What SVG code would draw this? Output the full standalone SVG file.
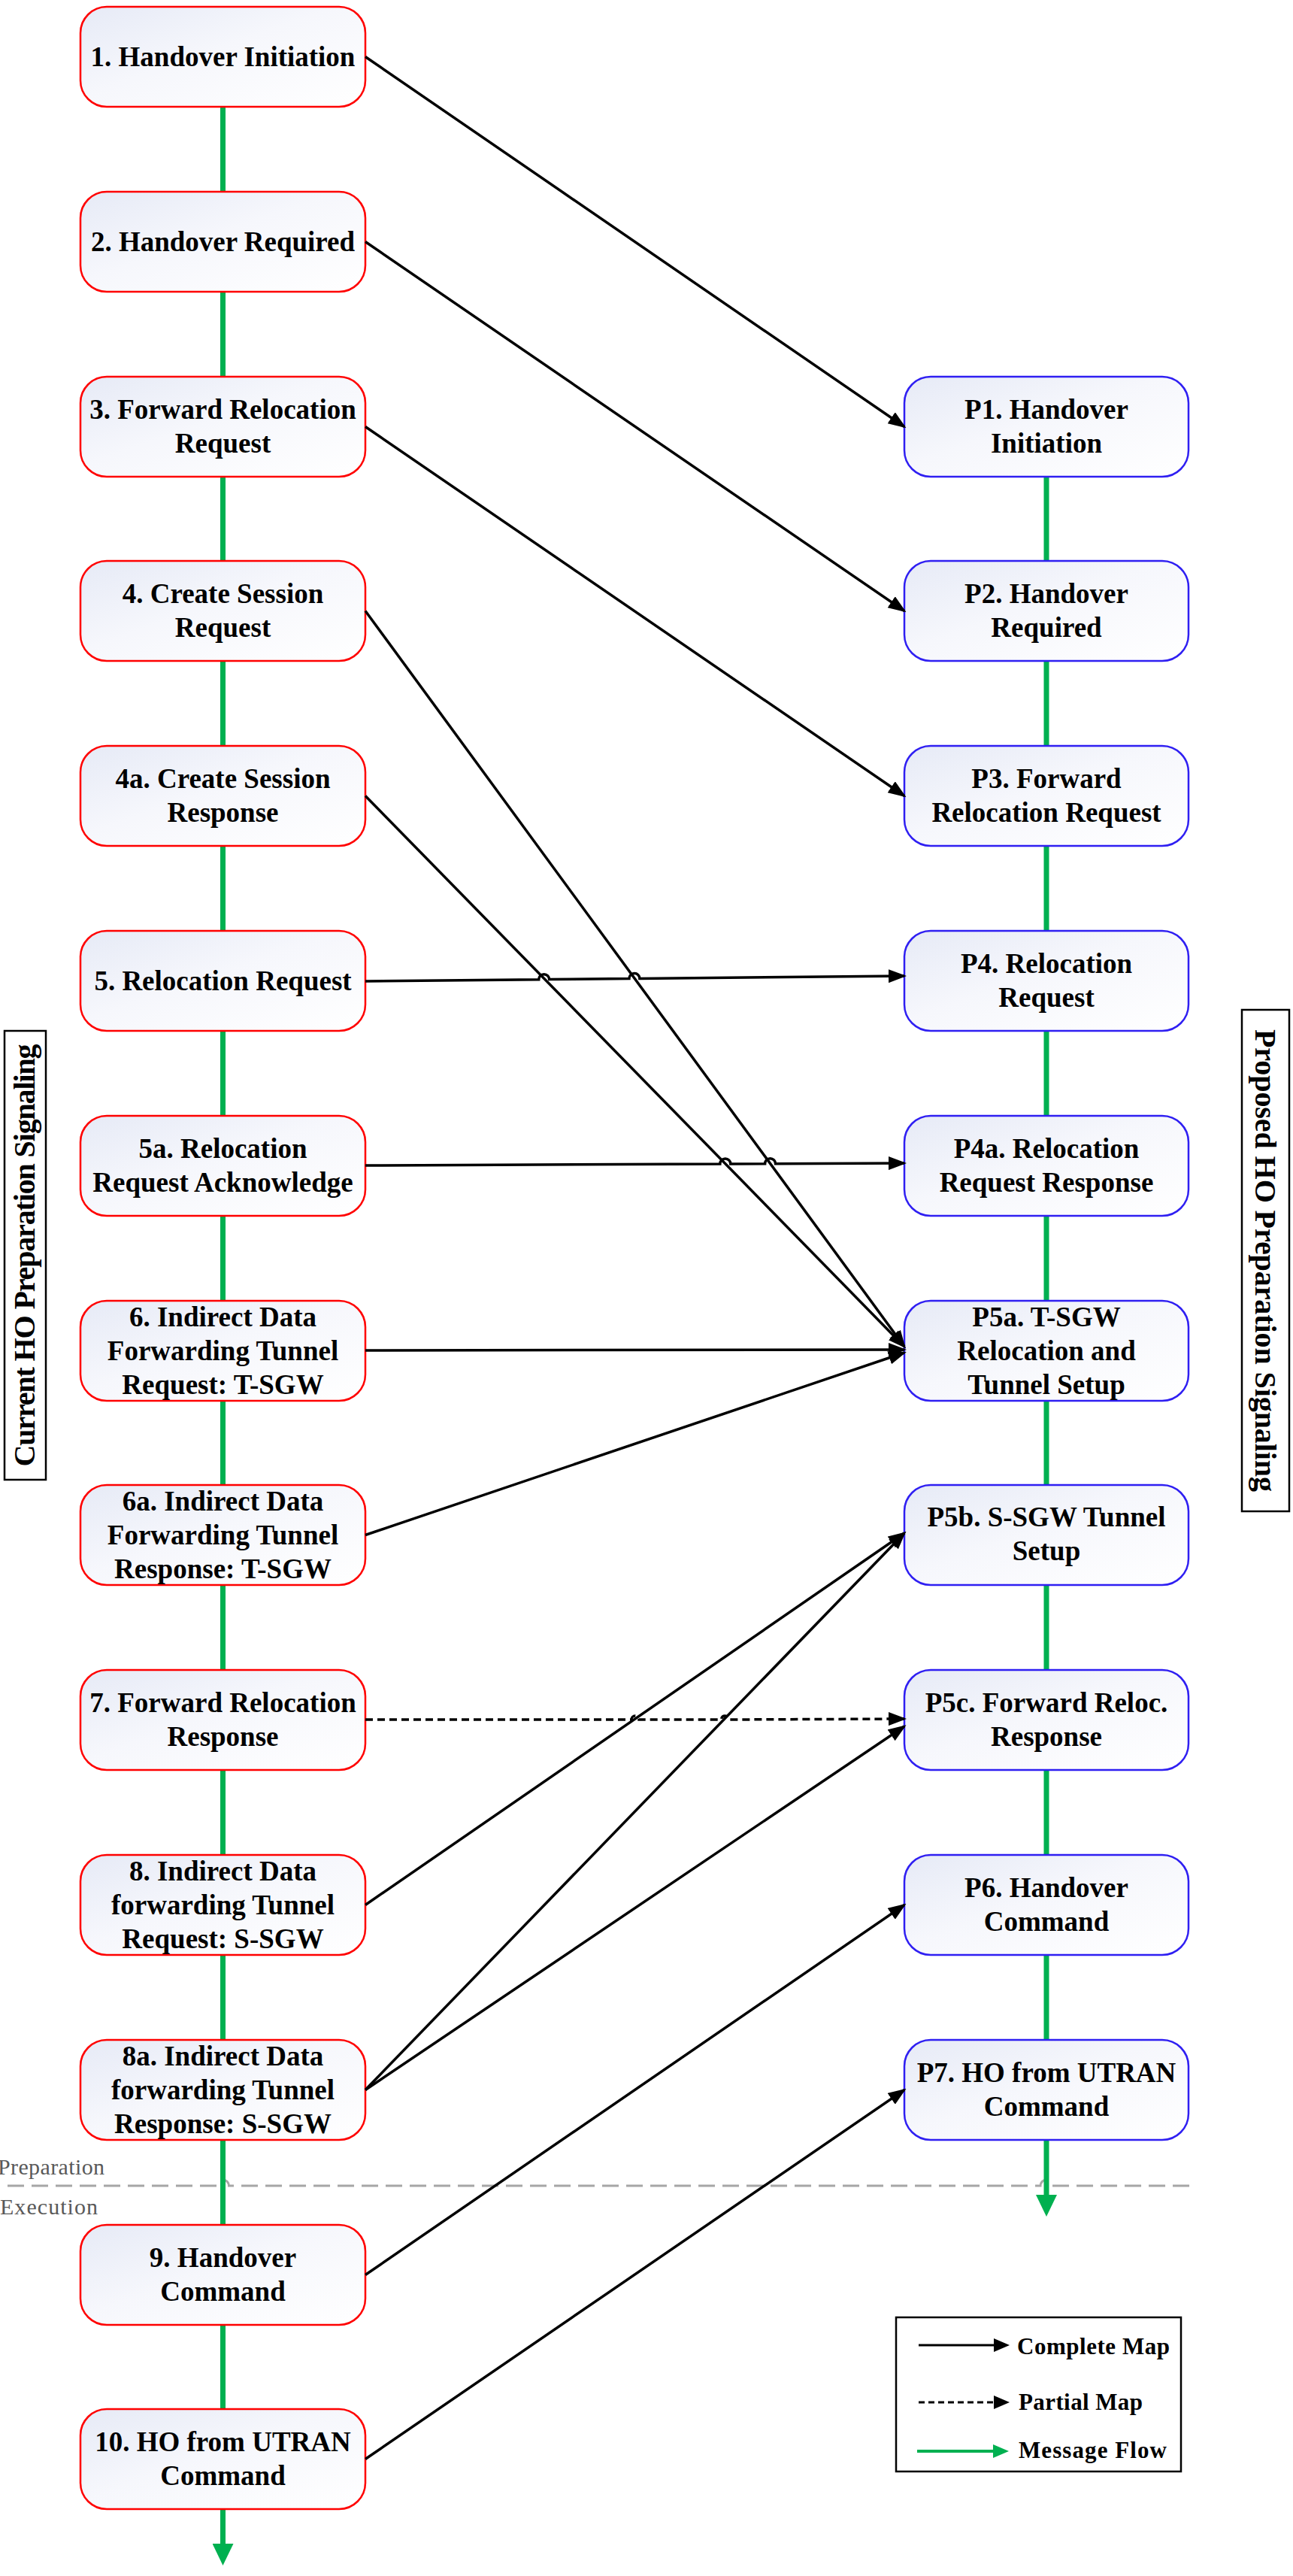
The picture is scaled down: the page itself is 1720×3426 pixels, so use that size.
<svg xmlns="http://www.w3.org/2000/svg" width="1720" height="3426" viewBox="0 0 1720 3426">
<style>
.nl rect{fill:url(#g);stroke:#ff0000;stroke-width:2.5}
.nr rect{fill:url(#g);stroke:#2f1ff2;stroke-width:2.5}
.node text{font-family:"Liberation Serif",serif;font-weight:bold;font-size:37px;text-anchor:middle;fill:#000}
.flow{fill:none;stroke:#00b050;stroke-width:7}
.c{fill:none;stroke:#000;stroke-width:3.5;marker-end:url(#ah)}
.lbl{font-family:"Liberation Serif",serif;font-size:40px;fill:#000;text-anchor:middle}
.phase{font-family:"Liberation Serif",serif;font-size:30px;fill:#595959}
.leg{font-family:"Liberation Serif",serif;font-weight:bold;font-size:31px;fill:#000}
</style>
<defs>
<linearGradient id="g" x1="0" y1="0" x2="1" y2="1">
<stop offset="0" stop-color="#e6eaf6"/>
<stop offset="0.45" stop-color="#f6f7fc"/>
<stop offset="1" stop-color="#ffffff"/>
</linearGradient>
<marker id="ah" markerUnits="userSpaceOnUse" markerWidth="24" markerHeight="18" viewBox="0 0 24 18" refX="21" refY="9" orient="auto"><path d="M0,0 L24,9 L0,18 z" fill="#000"/></marker>
<marker id="ahs" markerUnits="userSpaceOnUse" markerWidth="18" markerHeight="14" viewBox="0 0 18 14" refX="16" refY="7" orient="auto"><path d="M0,0 L18,7 L0,14 z" fill="#000"/></marker>
<marker id="gh" markerUnits="userSpaceOnUse" markerWidth="29" markerHeight="28" viewBox="0 0 29 28" refX="0" refY="14" orient="auto"><path d="M0,0 L29,14 L0,28 z" fill="#00b050"/></marker>
</defs>
<rect width="1720" height="3426" fill="#fff"/>

<!-- phase separator -->
<g id="separator">
<path d="M10,2907 L288.5,2907 A8,8 0 0 1 304.5,2907 L1384,2907 A8,8 0 0 1 1400,2907 L1590,2907" fill="none" stroke="#a6a6a6" stroke-width="3" stroke-dasharray="22 10"/>
<text class="phase" x="-3" y="2892" textLength="142">Preparation</text>
<text class="phase" x="0" y="2945" textLength="130">Execution</text>
</g>

<!-- side labels -->
<g id="label-current">
<rect x="6" y="1371" width="55" height="597" fill="#fff" stroke="#000" stroke-width="2.5"/>
<text class="lbl" font-weight="bold" transform="translate(46,1669.5) rotate(-90)" textLength="562">Current HO Preparation Signaling</text>
</g>
<g id="label-proposed">
<rect x="1652" y="1343" width="63" height="667" fill="#fff" stroke="#000" stroke-width="2.5"/>
<text class="lbl" font-weight="bold" transform="translate(1670,1676.5) rotate(90)" textLength="615">Proposed HO Preparation Signaling</text>
</g>

<!-- message flow lines -->
<g id="flows">
<path class="flow" d="M296.5,142 V255 M296.5,388 V501 M296.5,634 V746 M296.5,879 V992 M296.5,1125 V1238 M296.5,1371 V1484 M296.5,1617 V1730 M296.5,1863 V1975 M296.5,2108 V2221 M296.5,2354 V2467 M296.5,2600 V2713 M296.5,2846 V2959 M296.5,3092 V3204"/>
<path class="flow" d="M296.5,3337 V3383" marker-end="url(#gh)"/>
<path class="flow" d="M1392,634 V746 M1392,879 V992 M1392,1125 V1238 M1392,1371 V1484 M1392,1617 V1730 M1392,1863 V1975 M1392,2108 V2221 M1392,2354 V2467 M1392,2600 V2713"/>
<path class="flow" d="M1392,2846 V2919" marker-end="url(#gh)"/>
</g>

<!-- left nodes -->
<g id="n1" class="node nl"><rect x="107" y="9" width="379" height="133" rx="35"/><text x="296.5" y="87.5">1. Handover Initiation</text></g>
<g id="n2" class="node nl"><rect x="107" y="255" width="379" height="133" rx="35"/><text x="296.5" y="333.5">2. Handover Required</text></g>
<g id="n3" class="node nl"><rect x="107" y="501" width="379" height="133" rx="35"/><text x="296.5" y="557">3. Forward Relocation</text><text x="296.5" y="602">Request</text></g>
<g id="n4" class="node nl"><rect x="107" y="746" width="379" height="133" rx="35"/><text x="296.5" y="802">4. Create Session</text><text x="296.5" y="847">Request</text></g>
<g id="n4a" class="node nl"><rect x="107" y="992" width="379" height="133" rx="35"/><text x="296.5" y="1048">4a. Create Session</text><text x="296.5" y="1093">Response</text></g>
<g id="n5" class="node nl"><rect x="107" y="1238" width="379" height="133" rx="35"/><text x="296.5" y="1316.5">5. Relocation Request</text></g>
<g id="n5a" class="node nl"><rect x="107" y="1484" width="379" height="133" rx="35"/><text x="296.5" y="1540">5a. Relocation</text><text x="296.5" y="1585">Request Acknowledge</text></g>
<g id="n6" class="node nl"><rect x="107" y="1730" width="379" height="133" rx="35"/><text x="296.5" y="1763.5">6. Indirect Data</text><text x="296.5" y="1808.5">Forwarding Tunnel</text><text x="296.5" y="1853.5">Request: T-SGW</text></g>
<g id="n6a" class="node nl"><rect x="107" y="1975" width="379" height="133" rx="35"/><text x="296.5" y="2008.5">6a. Indirect Data</text><text x="296.5" y="2053.5">Forwarding Tunnel</text><text x="296.5" y="2098.5">Response: T-SGW</text></g>
<g id="n7" class="node nl"><rect x="107" y="2221" width="379" height="133" rx="35"/><text x="296.5" y="2277">7. Forward Relocation</text><text x="296.5" y="2322">Response</text></g>
<g id="n8" class="node nl"><rect x="107" y="2467" width="379" height="133" rx="35"/><text x="296.5" y="2500.5">8. Indirect Data</text><text x="296.5" y="2545.5">forwarding Tunnel</text><text x="296.5" y="2590.5">Request: S-SGW</text></g>
<g id="n8a" class="node nl"><rect x="107" y="2713" width="379" height="133" rx="35"/><text x="296.5" y="2746.5">8a. Indirect Data</text><text x="296.5" y="2791.5">forwarding Tunnel</text><text x="296.5" y="2836.5">Response: S-SGW</text></g>
<g id="n9" class="node nl"><rect x="107" y="2959" width="379" height="133" rx="35"/><text x="296.5" y="3015">9. Handover</text><text x="296.5" y="3060">Command</text></g>
<g id="n10" class="node nl"><rect x="107" y="3204" width="379" height="133" rx="35"/><text x="296.5" y="3260">10. HO from UTRAN</text><text x="296.5" y="3305">Command</text></g>

<!-- right nodes -->
<g id="p1" class="node nr"><rect x="1203" y="501" width="378" height="133" rx="35"/><text x="1392" y="557">P1. Handover</text><text x="1392" y="602">Initiation</text></g>
<g id="p2" class="node nr"><rect x="1203" y="746" width="378" height="133" rx="35"/><text x="1392" y="802">P2. Handover</text><text x="1392" y="847">Required</text></g>
<g id="p3" class="node nr"><rect x="1203" y="992" width="378" height="133" rx="35"/><text x="1392" y="1048">P3. Forward</text><text x="1392" y="1093">Relocation Request</text></g>
<g id="p4" class="node nr"><rect x="1203" y="1238" width="378" height="133" rx="35"/><text x="1392" y="1294">P4. Relocation</text><text x="1392" y="1339">Request</text></g>
<g id="p4a" class="node nr"><rect x="1203" y="1484" width="378" height="133" rx="35"/><text x="1392" y="1540">P4a. Relocation</text><text x="1392" y="1585">Request Response</text></g>
<g id="p5a" class="node nr"><rect x="1203" y="1730" width="378" height="133" rx="35"/><text x="1392" y="1763.5">P5a. T-SGW</text><text x="1392" y="1808.5">Relocation and</text><text x="1392" y="1853.5">Tunnel Setup</text></g>
<g id="p5b" class="node nr"><rect x="1203" y="1975" width="378" height="133" rx="35"/><text x="1392" y="2030">P5b. S-SGW Tunnel</text><text x="1392" y="2075">Setup</text></g>
<g id="p5c" class="node nr"><rect x="1203" y="2221" width="378" height="133" rx="35"/><text x="1392" y="2277">P5c. Forward Reloc.</text><text x="1392" y="2322">Response</text></g>
<g id="p6" class="node nr"><rect x="1203" y="2467" width="378" height="133" rx="35"/><text x="1392" y="2523">P6. Handover</text><text x="1392" y="2568">Command</text></g>
<g id="p7" class="node nr"><rect x="1203" y="2713" width="378" height="133" rx="35"/><text x="1392" y="2769">P7. HO from UTRAN</text><text x="1392" y="2814">Command</text></g>

<!-- mapping connectors -->
<g id="connectors">
<path class="c" d="M486,75.5 L1203,567.5"/>
<path class="c" d="M486,321.5 L1203,812.5"/>
<path class="c" d="M486,567.5 L1203,1058.5"/>
<path class="c" d="M486,812.5 L1203,1791"/>
<path class="c" d="M486,1058.5 L1203,1791"/>
<path class="c" stroke-width="3" d="M486,1305 L716.7,1302.7 A7,7 0 0 1 730.7,1302.6 L836.9,1301.6 A7,7 0 0 1 850.9,1301.4 L1203,1298"/>
<path class="c" stroke-width="4.5" d="M486,1550 L957.8,1548 A7,7 0 0 1 971.8,1548 L1017.6,1547.8 A7,7 0 0 1 1031.6,1547.7 L1203,1547"/>
<path class="c" stroke-width="4.5" d="M486,1796 L1203,1795"/>
<path class="c" stroke-width="4" d="M486,2041.5 L1203,1799"/>
<path class="c" stroke-width="4" stroke-dasharray="10 6" d="M486,2287 L840,2287 A5,5 0 0 1 850,2287 L959.5,2287 A5,5 0 0 1 969.5,2287 L1203,2286"/>
<path class="c" stroke-width="4" d="M486,2533.5 L1203,2039"/>
<path class="c" stroke-width="4" d="M486,2779.5 L1203,2039"/>
<path class="c" stroke-width="1.8" marker-end="url(#ahs)" d="M486,2779.5 L1203,2296"/>
<path class="c" d="M486,3025.5 L1203,2533.5"/>
<path class="c" d="M486,3270.5 L1203,2779.5"/>
</g>

<!-- legend -->
<g id="legend">
<rect x="1192" y="3082" width="379" height="205" fill="#fff" stroke="#000" stroke-width="2.5"/>
<path d="M1222,3119 H1325" stroke="#000" stroke-width="3"/>
<polygon points="1322,3110 1343,3119 1322,3128" fill="#000"/>
<text class="leg" x="1353" y="3131" textLength="203">Complete Map</text>
<path d="M1222,3195 H1325" stroke="#000" stroke-width="3" stroke-dasharray="8 5"/>
<polygon points="1322,3186 1343,3195 1322,3204" fill="#000"/>
<text class="leg" x="1355" y="3205" textLength="165">Partial Map</text>
<path d="M1220,3260 H1325" stroke="#00b050" stroke-width="4"/>
<polygon points="1321,3251 1342,3260 1321,3269" fill="#00b050"/>
<text class="leg" x="1355" y="3269" textLength="197">Message Flow</text>
</g>
</svg>
